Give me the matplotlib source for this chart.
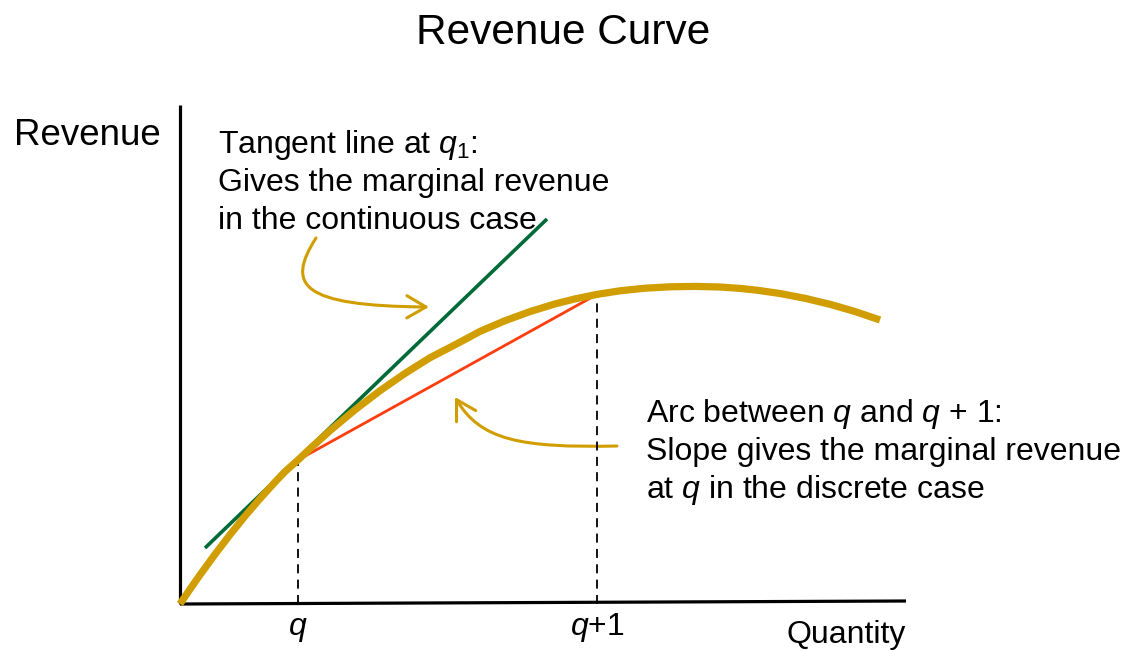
import matplotlib.pyplot as plt
from matplotlib.patches import FancyArrowPatch
from matplotlib.path import Path

plt.rcParams['font.family'] = ['Liberation Sans', 'DejaVu Sans']
plt.rcParams['mathtext.fontset'] = 'custom'
plt.rcParams['mathtext.rm'] = 'Liberation Sans'
plt.rcParams['mathtext.it'] = 'Liberation Sans:italic'

# revenue curve (quantity, revenue)
quantity = [0, 10, 20, 35, 50, 65, 80, 95, 105, 118, 130, 150, 175, 200,
            225, 250, 275, 300, 325, 350, 375, 395, 417, 440, 465, 490,
            515, 540, 560, 577, 600, 625, 650, 675, 700]
revenue = [0, 14.8, 29.1, 49.7, 69.3, 87.9, 105.4, 121.9, 132.4, 144,
           155.3, 173.3, 194.2, 213.3, 230.6, 246.3, 259.2, 272.6, 283.3,
           292.4, 300.1, 305.1, 309.6, 313.2, 315.8, 317.2, 317.6, 317.0,
           315.6, 313.8, 310.5, 305.7, 299.7, 292.5, 284]

i_q = quantity.index(118)
i_q1 = quantity.index(417)

tangent_x = [25, 367]
tangent_y = [56, 385]

axis_x_end = (726, 3)
axis_y_top = 499

tangent_lines = ['Tangent line at $q_1$:',
                 'Gives the marginal revenue',
                 'in the continuous case']
arc_lines = ['Arc between $q$ and $q$ + 1:',
             'Slope gives the marginal revenue',
             'at $q$ in the discrete case']

gold = '#D09E00'
green = '#006B38'
red = '#FF3D0D'

fig = plt.figure(figsize=(11.22, 6.51), dpi=100)
ax = fig.add_axes([0, 0, 1, 1])
ax.set_xlim(-180, 942)
ax.set_ylim(-47, 604)
ax.axis('off')

# axes lines
ax.plot([0, axis_x_end[0]], [0, axis_x_end[1]], color='black', lw=2.3,
        solid_capstyle='butt')
ax.plot([0, 0], [0, axis_y_top], color='black', lw=2.3, solid_capstyle='butt')

# dashed drop lines
for i in (i_q, i_q1):
    ax.plot([quantity[i], quantity[i]], [0, revenue[i]], color='black',
            lw=1.3, ls=(0, (5, 3.5)))

ax.plot(tangent_x, tangent_y, color=green, lw=2.6, solid_capstyle='butt')
ax.plot([quantity[i_q], quantity[i_q1]], [revenue[i_q], revenue[i_q1]],
        color=red, lw=2.0)
ax.plot(quantity, revenue, color=gold, lw=5.2, solid_capstyle='butt',
        solid_joinstyle='round')

# curved pointers
arrow_paths = [
    [(136, 366), (106, 319), (120, 298), (249, 297)],
    [(437, 158), (340, 156), (300, 164), (275, 207)],
]
codes = [Path.MOVETO, Path.CURVE4, Path.CURVE4, Path.CURVE4]
for pts in arrow_paths:
    arr = FancyArrowPatch(path=Path(pts, codes),
                          arrowstyle='->,head_length=0.55,head_width=0.32',
                          mutation_scale=25, color=gold, lw=2.2)
    ax.add_patch(arr)

# text
ax.text(383, 560, 'Revenue Curve', fontsize=30.5, ha='center', va='baseline')
ax.text(-166, 459, 'Revenue', fontsize=26.5, ha='left', va='baseline')
ax.text(726, -39, 'Quantity', fontsize=23, ha='right', va='baseline')
ax.text(quantity[i_q], -31, '$q$', fontsize=23, ha='center', va='baseline')
ax.text(quantity[i_q1], -31, '$q$+1', fontsize=23, ha='center', va='baseline')

for k, line in enumerate(tangent_lines):
    ax.text(38, 451 - 38 * k, line, fontsize=23, ha='left', va='baseline')
for k, line in enumerate(arc_lines):
    ax.text(466, 182 - 38 * k, line, fontsize=23, ha='left', va='baseline')

fig.savefig('out.png', dpi=100)
